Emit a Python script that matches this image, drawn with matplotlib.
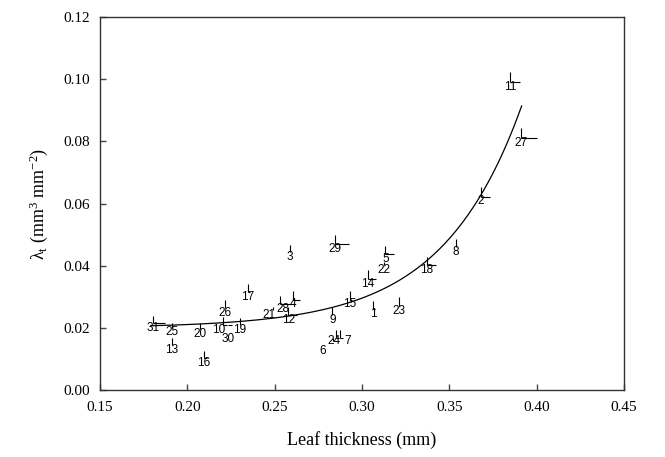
import matplotlib
matplotlib.use("Agg")
import matplotlib.pyplot as plt
import numpy as np

plt.rcParams['mathtext.fontset'] = 'custom'
plt.rcParams['mathtext.rm'] = 'Liberation Serif'
plt.rcParams['mathtext.it'] = 'Liberation Serif:italic'

labels = ["11", "27", "2", "8", "18", "5", "22", "29", "3", "14", "15", "9", "1", "23",
          "24", "7", "6", "17", "4", "28", "21", "12", "26", "10", "30", "19", "20",
          "25", "31", "13", "16"]
thickness = [0.385, 0.391, 0.368, 0.3536, 0.337, 0.3134, 0.3124, 0.2844, 0.2586, 0.3035,
             0.293, 0.283, 0.3063, 0.3212, 0.285, 0.2872, 0.2832, 0.2346, 0.2607, 0.2531,
             0.2492, 0.2578, 0.2216, 0.2206, 0.2235, 0.2301, 0.2073, 0.191, 0.1805, 0.191,
             0.2095]
lambda_t = [0.099, 0.081, 0.0622, 0.046, 0.0402, 0.0437, 0.0402, 0.047, 0.0444, 0.0357,
            0.029, 0.0241, 0.026, 0.027, 0.0167, 0.0167, 0.0158, 0.0315, 0.029, 0.0277,
            0.0257, 0.0241, 0.0264, 0.0209, 0.0209, 0.0209, 0.0196, 0.020, 0.0215, 0.0145,
            0.0103]
thickness_err = [0.0053, 0.009, 0.0055, 0.0, 0.0053, 0.0048, 0.0, 0.0082, 0.0, 0.0044,
                 0.001, 0.0, 0.001, 0.0, 0.002, 0.002, 0.0, 0.001, 0.0038, 0.0086,
                 0.0, 0.0048, 0.0, 0.002, 0.002, 0.0, 0.0, 0.0, 0.0067, 0.0,
                 0.002]
lambda_err = [0.0032, 0.0032, 0.0032, 0.0025, 0.0027, 0.0025, 0.001, 0.0028, 0.0022, 0.003,
              0.0027, 0.0026, 0.0027, 0.0029, 0.0027, 0.0027, 0.001, 0.0025, 0.0027, 0.0024,
              0.001, 0.0026, 0.0024, 0.0026, 0.0, 0.0022, 0.002, 0.0017, 0.0024, 0.0023,
              0.0021]

# fitted exponential: y = a + b * exp(c * x)
fit_a, fit_b, fit_c = 0.020, 1.3e-5, 22.0
fit_xmin, fit_xmax = 0.179, 0.3914

fig = plt.figure(figsize=(6.65, 4.57), dpi=100)
ax = fig.add_axes([0.1504, 0.1466, 0.7879, 0.8162])

n = len(labels)
ax.errorbar(thickness, lambda_t,
            xerr=[np.zeros(n), thickness_err],
            yerr=[np.zeros(n), lambda_err],
            fmt='none', ecolor='black', elinewidth=0.8, capsize=0)

# small pixel nudges for labels in crowded clusters
nudge = {"30": (0, -7), "7": (6, 1), "24": (-1, 1), "6": (-7, -4), "10": (-3, 0),
         "21": (-3, 0), "28": (2, 0)}
for lab, x, y in zip(labels, thickness, lambda_t):
    dx, dy = nudge.get(lab, (0, 0))
    ax.annotate(lab, (x, y), xytext=(dx, 1 + dy), textcoords='offset points',
                ha='center', va='top', fontsize=8.5,
                family='Liberation Sans', color='black')

xf = np.linspace(fit_xmin, fit_xmax, 200)
ax.plot(xf, fit_a + fit_b * np.exp(fit_c * xf), color='black', lw=0.9)

ax.set_xlim(0.15, 0.45)
ax.set_ylim(0.0, 0.12)
xt = np.arange(0.15, 0.451, 0.05)
yt = np.arange(0.0, 0.121, 0.02)
ax.set_xticks(xt)
ax.set_yticks(yt)
ax.set_xticklabels([f"{v:.2f}" for v in xt])
ax.set_yticklabels([f"{v:.2f}" for v in yt])
ax.tick_params(direction='in', length=4, width=1, color='#444444', labelsize=11)
ax.tick_params(axis='x', pad=8)
ax.tick_params(axis='y', pad=7)
for lab in ax.get_xticklabels() + ax.get_yticklabels():
    lab.set_family('Liberation Serif')
for sp in ax.spines.values():
    sp.set_color('#333333')
    sp.set_linewidth(1.0)

ax.set_xlabel('Leaf thickness (mm)', family='Liberation Serif', fontsize=13, labelpad=12)
ax.set_ylabel('λ$_{\\mathrm{t}}$ (mm$^{3}$ mm$^{-2}$)', family='Liberation Serif',
              fontsize=13, labelpad=10)

fig.savefig('out.png', dpi=100)
